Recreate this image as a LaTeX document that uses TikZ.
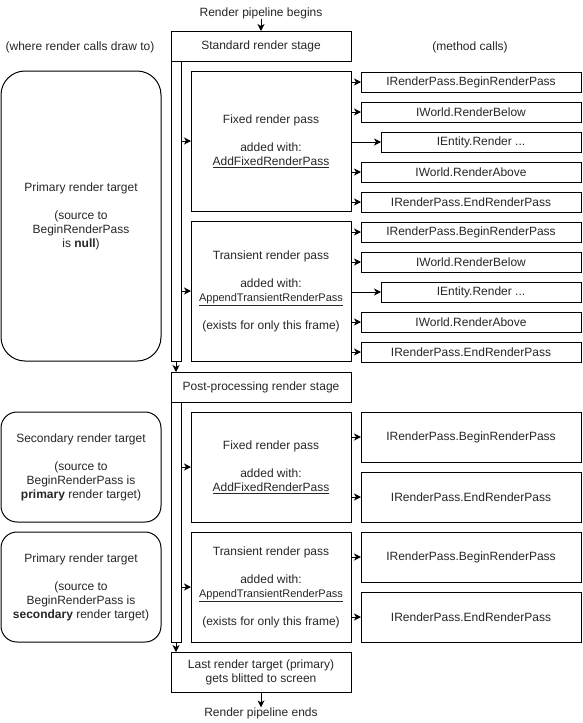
\documentclass[tikz,border=0pt]{standalone}
\usepackage{fontspec}
\setmainfont{Liberation Sans}
\usetikzlibrary{positioning,arrows.meta}

\begin{document}
\begin{tikzpicture}[x=1pt,y=-1pt,line width=1pt,
  every node/.style={font=\fontsize{12}{14}\selectfont, text=black!85, align=center, inner sep=0pt, outer sep=0pt},
  stagebox/.style={draw, minimum width=180pt, minimum height=30pt},
  passbox/.style={draw, minimum width=160pt, minimum height=#1},
  callbox/.style={draw, minimum width=220pt, minimum height=#1},
  callbox/.default=20pt,
  entitybox/.style={draw, minimum width=200pt, minimum height=20pt},
  barbox/.style={draw, minimum width=10pt, minimum height=#1},
  targetbox/.style 2 args={draw, rounded corners=#1, minimum width=160pt, minimum height=#2},
  arr/.style={-{Stealth[length=7pt,width=7pt,inset=2pt]}}]
\useasboundingbox (0,0) rectangle (583,723);

\node (begins) at (261,13) {Render pipeline begins};
\node (drawto) at (80,47) {(where render calls draw to)};
\node (methods) at (470,47) {(method calls)};

\node[stagebox] (stage1) at (261,46) {Standard render stage};
\node[barbox=300pt] (bar1) at (176,211) {};
\node[passbox=140pt] (fix1) at (271,141) {Fixed render pass\\[14pt]added with:\\ \underline{AddFixedRenderPass}};
\node[passbox=140pt] (trans1) at (271,291) {Transient render pass\\[14pt]added with:\\ {\fontsize{11}{14}\selectfont\underline{AppendTransientRenderPass}}\\[14pt](exists for only this frame)};

\node[stagebox] (stage2) at (261,387) {Post-processing render stage};
\node[barbox=240pt] (bar2) at (176,522) {};
\node[passbox=110pt] (fix2) at (271,467) {Fixed render pass\\[14pt]added with:\\ \underline{AddFixedRenderPass}};
\node[passbox=110pt] (trans2) at (271,587) {Transient render pass\\[14pt]added with:\\ {\fontsize{11}{14}\selectfont\underline{AppendTransientRenderPass}}\\[14pt](exists for only this frame)};

\node[stagebox, minimum height=40pt] (last) at (261,672) {Last render target (primary)\\gets blitted to screen};
\node (ends) at (261,713) {Render pipeline ends};

\node[targetbox={24pt}{290pt}] (tgt1) at (81,216) {Primary render target\\[14pt](source to\\BeginRenderPass\\is \textbf{null})};
\node[targetbox={16pt}{110pt}] (tgt2) at (81,467) {Secondary render target\\[14pt](source to\\BeginRenderPass is\\ \textbf{primary} render target)};
\node[targetbox={16pt}{110pt}] (tgt3) at (81,587) {Primary render target\\[14pt](source to\\BeginRenderPass is\\ \textbf{secondary} render target)};

\node[callbox] (c11) at (471,82) {IRenderPass.BeginRenderPass};
\node[callbox, below=10pt of c11] (c12) {IWorld.RenderBelow};
\node[entitybox, below=10pt of c12.south east, anchor=north east] (c13) {IEntity.Render ...};
\node[callbox, below=40pt of c12] (c14) {IWorld.RenderAbove};
\node[callbox, below=10pt of c14] (c15) {IRenderPass.EndRenderPass};
\node[callbox, below=10pt of c15] (c21) {IRenderPass.BeginRenderPass};
\node[callbox, below=10pt of c21] (c22) {IWorld.RenderBelow};
\node[entitybox, below=10pt of c22.south east, anchor=north east] (c23) {IEntity.Render ...};
\node[callbox, below=40pt of c22] (c24) {IWorld.RenderAbove};
\node[callbox, below=10pt of c24] (c25) {IRenderPass.EndRenderPass};
\node[callbox=50pt] (c31) at (471,437) {IRenderPass.BeginRenderPass};
\node[callbox=50pt, below=10pt of c31] (c32) {IRenderPass.EndRenderPass};
\node[callbox=50pt, below=10pt of c32] (c41) {IRenderPass.BeginRenderPass};
\node[callbox=50pt, below=10pt of c41] (c42) {IRenderPass.EndRenderPass};

\draw[arr] (begins) -- (stage1);
\draw[arr] (bar1.east |- fix1) -- (fix1);
\draw[arr] (bar1.east |- trans1) -- (trans1);
\draw[arr] (bar1) -- (bar1 |- stage2.north);
\draw[arr] (bar2.east |- fix2) -- (fix2);
\draw[arr] (bar2.east |- trans2) -- (trans2);
\draw[arr] (bar2) -- (bar2 |- last.north);
\draw[arr] (last) -- (ends);

\draw[arr] (fix1.east |- c11) -- (c11);
\draw[arr] (fix1.east |- c12) -- (c12);
\draw[arr] (fix1.east |- c13) -- (c13);
\draw[arr] (fix1.east |- c14) -- (c14);
\draw[arr] (fix1.east |- c15) -- (c15);
\draw[arr] (trans1.east |- c21) -- (c21);
\draw[arr] (trans1.east |- c22) -- (c22);
\draw[arr] (trans1.east |- c23) -- (c23);
\draw[arr] (trans1.east |- c24) -- (c24);
\draw[arr] (trans1.east |- c25) -- (c25);
\draw[arr] (fix2.east |- c31) -- (c31);
\draw[arr] (fix2.east |- c32) -- (c32);
\draw[arr] (trans2.east |- c41) -- (c41);
\draw[arr] (trans2.east |- c42) -- (c42);
\end{tikzpicture}
\end{document}
